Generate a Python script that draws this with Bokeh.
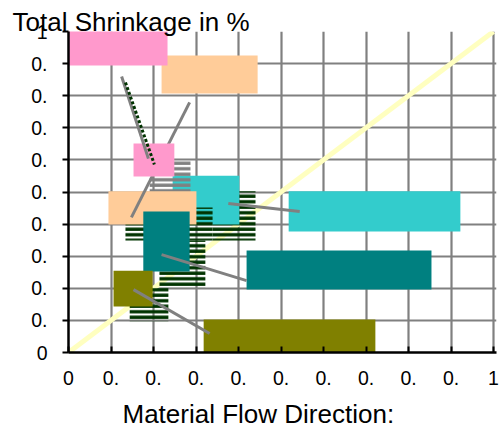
from bokeh.plotting import figure
from bokeh.models import FixedTicker, Range1d, Title
from bokeh.embed import file_html
from bokeh.resources import INLINE

FONT = "Liberation Sans"

# axis ticks and their (truncated) labels, as shown in the chart
tick_values = [0.0, 0.1, 0.2, 0.3, 0.4, 0.5, 0.6, 0.7, 0.8, 0.9, 1.0]
tick_labels = ["0", "0.", "0.", "0.", "0.", "0.", "0.", "0.", "0.", "0.", "1"]

x_title = "Material Flow Direction:"
y_title = "Total Shrinkage in %"

# reference diagonal (y = x)
diag_x = [0.0, 1.0]
diag_y = [0.0, 1.0]

# five series: pink, peach, cyan, teal, olive
colors = ["#FF99CC", "#FFCC99", "#33CCCC", "#008080", "#808000"]

# small coloured boxes (data points)
marker_left = [0.153, 0.094, 0.245, 0.176, 0.106]
marker_right = [0.249, 0.301, 0.402, 0.285, 0.198]
marker_bottom = [0.548, 0.399, 0.399, 0.252, 0.143]
marker_top = [0.651, 0.502, 0.551, 0.439, 0.255]

# large coloured label boxes
label_left = [-0.005, 0.219, 0.518, 0.419, 0.318]
label_right = [0.233, 0.445, 0.922, 0.854, 0.722]
label_bottom = [0.894, 0.807, 0.377, 0.196, -0.016]
label_top = [1.016, 0.925, 0.502, 0.318, 0.103]

# leader lines from label boxes to points
leader_x0 = [0.125, 0.285, 0.376, 0.219, 0.153]
leader_y0 = [0.860, 0.779, 0.464, 0.305, 0.196]
leader_x1 = [0.188, 0.148, 0.544, 0.419, 0.332]
leader_y1 = [0.604, 0.421, 0.439, 0.224, 0.059]

# dashed dark-green leader
dash_x = [0.134, 0.202]
dash_y = [0.841, 0.586]

# striped (hatched) shadow boxes: gray, green-right, green-left, green-teal, green-olive
shadow_left = [0.191, 0.339, 0.134, 0.214, 0.144]
shadow_right = [0.287, 0.440, 0.339, 0.322, 0.235]
shadow_bottom = [0.498, 0.349, 0.349, 0.202, 0.097]
shadow_top = [0.601, 0.502, 0.452, 0.349, 0.202]
shadow_colors = ["#808080", "#003300", "#003300", "#003300", "#003300"]

p = figure(width=500, height=428, output_backend="svg", toolbar_location=None,
           x_range=Range1d(0, 1.007), y_range=Range1d(0, 1.0),
           min_border_left=68, min_border_right=4, min_border_top=31, min_border_bottom=76)
p.outline_line_color = None
p.background_fill_color = "white"
p.border_fill_color = "white"

# titles
p.add_layout(Title(text=y_title, align="left", offset=-56, standoff=-11,
                   text_font=FONT, text_font_size="26px", text_font_style="normal",
                   text_color="black"), "above")
p.add_layout(Title(text=x_title, align="left", offset=54, standoff=0,
                   text_font=FONT, text_font_size="26px", text_font_style="normal",
                   text_color="black"), "below")

# grid
for g in (p.xgrid, p.ygrid):
    g.ticker = FixedTicker(ticks=tick_values[1:])
    g.grid_line_color = "#808080"
    g.grid_line_width = 2.2
    g.level = "image"

# axes
for ax in (p.xaxis, p.yaxis):
    ax.ticker = FixedTicker(ticks=tick_values)
    ax.major_label_overrides = dict(zip(tick_values, tick_labels))
    ax.axis_line_color = "black"
    ax.axis_line_width = 2.5
    ax.major_tick_line_color = "black"
    ax.major_tick_line_width = 2
    ax.minor_tick_line_color = None
    ax.major_label_text_font = FONT
    ax.major_label_text_font_size = "19.5px"
    ax.major_label_text_color = "black"
p.xaxis.major_tick_in = 6
p.xaxis.major_tick_out = 0
p.xaxis.major_label_standoff = 18
# blank spacer label below the tick labels, pushes the title text down
p.xaxis.axis_label = " "
p.xaxis.axis_label_text_font_size = "5px"
p.xaxis.axis_label_standoff = 0
p.yaxis.major_tick_in = 0
p.yaxis.major_tick_out = 6
p.yaxis.major_label_standoff = 15

# diagonal
p.line(diag_x, diag_y, line_color="#FFFFC0", line_width=5)


def box(i, which):
    if which == "label":
        p.quad(left=[label_left[i]], right=[label_right[i]], bottom=[label_bottom[i]],
               top=[label_top[i]], fill_color=colors[i], line_color=None)
    else:
        p.quad(left=[marker_left[i]], right=[marker_right[i]], bottom=[marker_bottom[i]],
               top=[marker_top[i]], fill_color=colors[i], line_color=None)


def shadow(i):
    p.quad(left=[shadow_left[i]], right=[shadow_right[i]], bottom=[shadow_bottom[i]],
           top=[shadow_top[i]], fill_color=None, line_color=None,
           hatch_pattern="horizontal_line", hatch_color=shadow_colors[i],
           hatch_weight=3.3, hatch_scale=5.5)


def leader(i):
    p.line([leader_x0[i], leader_x1[i]], [leader_y0[i], leader_y1[i]],
           line_color="#808080", line_width=3)


# label boxes
for i in (1, 0, 2, 3, 4):
    box(i, "label")

# stacking of the cluttered centre
shadow(1)
box(2, "marker")
shadow(2)
shadow(0)
box(1, "marker")
leader(1)
box(0, "marker")
leader(0)
p.line(dash_x, dash_y, line_color="#003300", line_width=3, line_dash="3 2")
shadow(3)
box(3, "marker")
shadow(4)
box(4, "marker")
leader(2)
leader(3)
leader(4)

open("out.html", "w").write(file_html(p, INLINE))
